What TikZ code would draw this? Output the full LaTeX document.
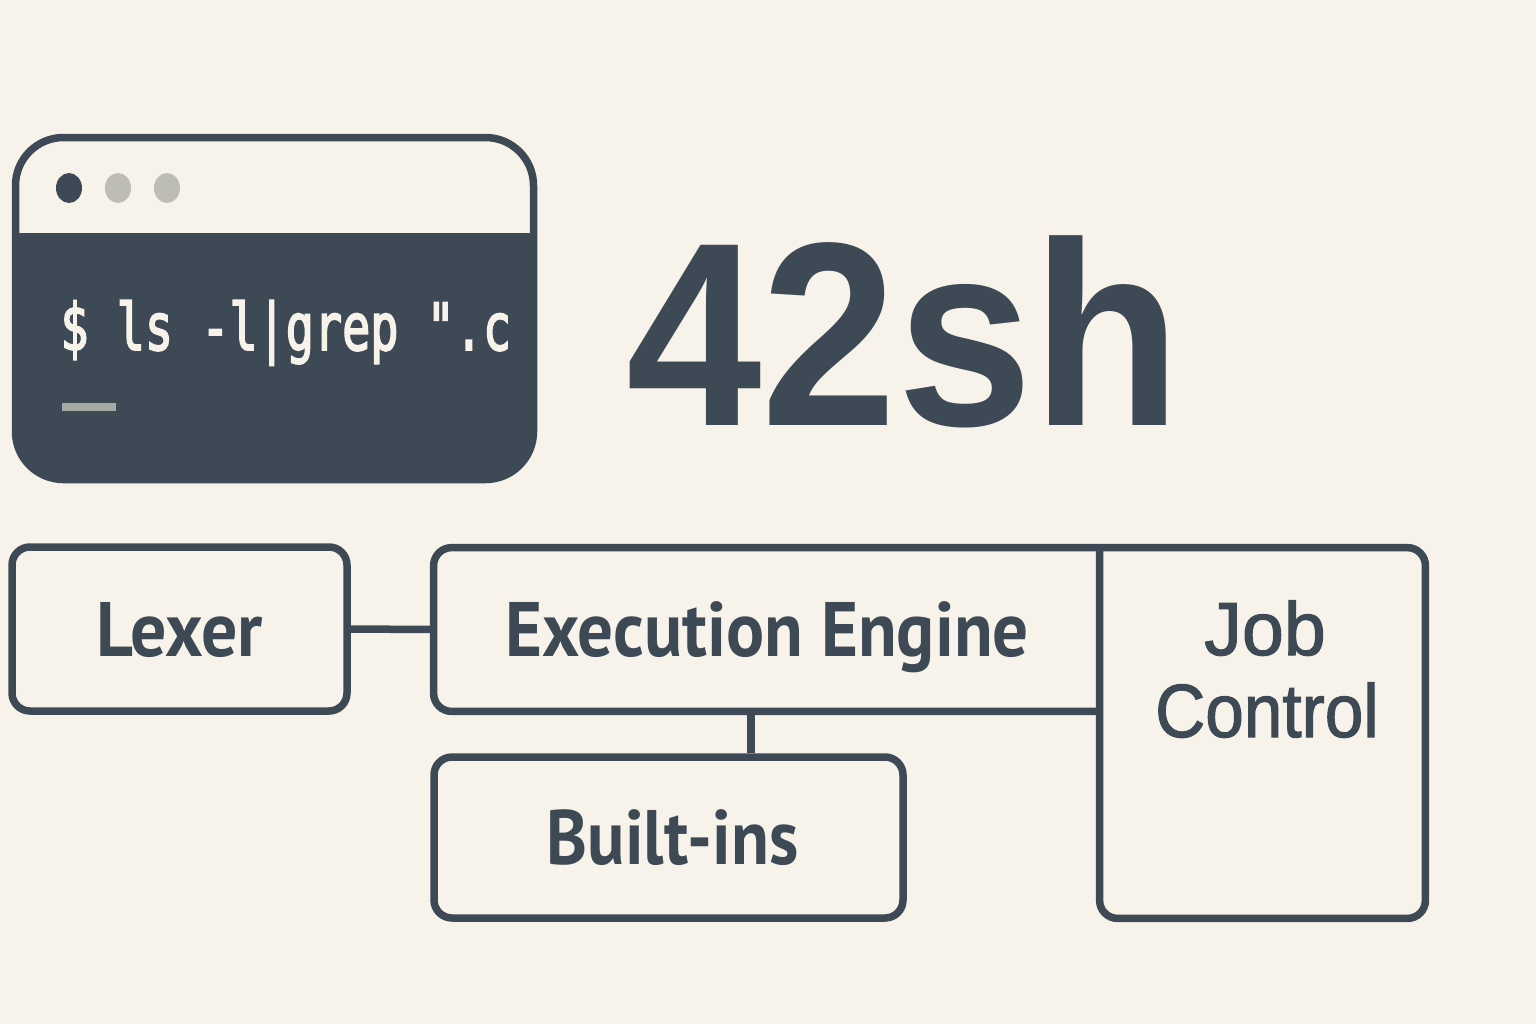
\documentclass[tikz,border=0pt]{standalone}
\usepackage{fontspec}
\setmainfont{PT Sans}
\newfontfamily\monof{DejaVu Sans Mono}[Ligatures=TeXOff, FakeBold=3]
\newfontfamily\headf{Liberation Sans}
\newfontfamily\jobf{Liberation Sans}[FakeBold=1.6]
\definecolor{bg}{HTML}{F8F3EA}
\definecolor{dark}{HTML}{3D4A55}
\definecolor{dotgray}{HTML}{BDBDB6}
\definecolor{cursorgray}{HTML}{A8A8A4}
\tikzset{
  line/.style={draw=dark, line width=3.75pt},
  boxlabel/.style={text=dark, font=\bfseries\fontsize{38.6}{44}\selectfont, text height=27pt, text depth=0pt, inner sep=0pt},
  roundbox/.style={line, rounded corners=9pt, boxlabel},
  jobfont/.style={text=dark, font=\jobf\fontsize{37.7}{44}\selectfont, inner sep=0pt, anchor=base},
}
\begin{document}
\begin{tikzpicture}[x=0.5pt,y=-0.5pt]
\fill[bg] (0,0) rectangle (1536,1024);
\useasboundingbox (0,0) rectangle (1536,1024);
% terminal window
\begin{scope}
  \clip[rounded corners=24pt] (15.5,137.5) rectangle (533.5,479.5);
  \fill[dark] (0,233) rectangle (600,520);
  \fill[bg] (0,100) rectangle (600,233);
\end{scope}
\draw[dark, line width=3.75pt, rounded corners=24pt] (15.5,137.5) rectangle (533.5,479.5);
\fill[dark] (69,188) ellipse [x radius=6.5pt, y radius=7.5pt];
\fill[dotgray] (118,188) ellipse [x radius=6.5pt, y radius=7.5pt];
\fill[dotgray] (167,188) ellipse [x radius=6.5pt, y radius=7.5pt];
\node[anchor=base west, inner sep=0pt, text=bg, font=\monof\fontsize{32.5}{36}\selectfont] (cmd) at (60,350) {\scalebox{0.72}[1]{\$ ls -l|grep "{}.c}};
\fill[cursorgray] (62,403) rectangle (116,411);
% title
\node[anchor=base, inner sep=0pt, text=dark, font=\headf\bfseries\fontsize{131}{131}\selectfont] (title) at (904,425) {\scalebox{0.93}[1]{42sh}};
% boxes
\node[roundbox, minimum width=167.5pt, minimum height=82pt] (lexer) at (179.5,629) {\scalebox{0.93}[1]{Lexer}};
\node[boxlabel, minimum width=333pt, minimum height=81.5pt] (exec) at (767,629.5) {\scalebox{0.92}[1]{Execution Engine}};
\node[minimum width=162.5pt, minimum height=185pt, inner sep=0pt] (job) at (1262.5,733) {};
\node[jobfont] (jobtxt1) at (1265,655) {Job};
\node[jobfont] (jobtxt2) at (1267,737) {\scalebox{0.92}[1]{Control}};
\node[roundbox, minimum width=234.5pt, minimum height=80.5pt] (builtins) at (668.5,837.5) {\hspace*{4pt}\scalebox{0.9}[1]{Built-ins}};
\draw[line, rounded corners=9pt] (exec.north east) -- (exec.north west) -- (exec.south west) -- (exec.south east);
\draw[line, rounded corners=9pt] (job.north west) -- (job.north east) -- (job.south east) -- (job.south west) -- (job.north west);
% connectors
\draw[line] (lexer.east) -- (exec.west);
\draw[line] (exec.south -| 751,0) -- (builtins.north -| 751,0);
\end{tikzpicture}
\end{document}
